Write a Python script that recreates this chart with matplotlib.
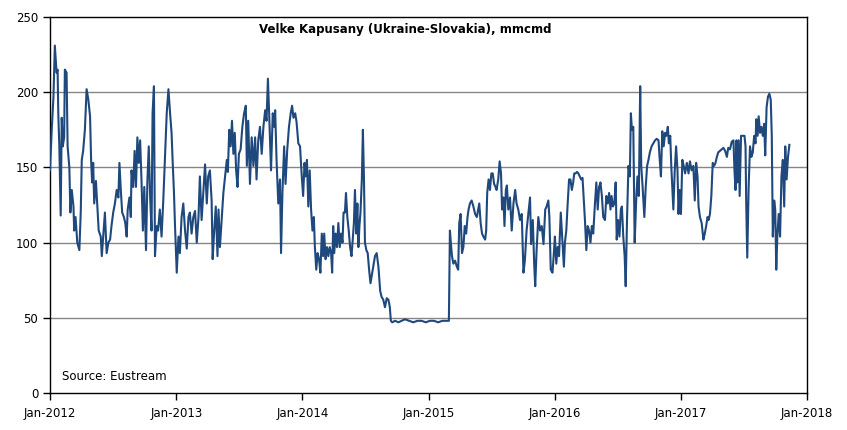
import matplotlib
matplotlib.use("Agg")
import matplotlib.pyplot as plt
import matplotlib.dates as mdates
import pandas as pd
import numpy as np

title = "Velke Kapusany (Ukraine-Slovakia), mmcmd"
source = "Source: Eustream"
start = "2012-01-01"
year_ticks = ["2012-01-01", "2013-01-01", "2014-01-01", "2015-01-01",
              "2016-01-01", "2017-01-01", "2018-01-01"]
y_ticks = [0, 50, 100, 150, 200, 250]

# day offsets from 2012-01-01 and flows (mmcmd)
days_p1 = [0,5,10,14,19,22,24,27,31,34,37,41,43,48,51,56,59,63,68,70,74,79,85,89,92,96,101,106,111,116,119,122,125,128,133,137,141,147,150,154,159,164,169,174,178,183,188,193,198,201,205,209,214,218,222,225,230,234,236,241,245,249,253,257,261,265,269,273,278,282,286,290,294,297,301,304,309,313,318,323,328,333,338,343]
vals_p1 = [148,175,197,231,213,215,186,164,118,183,164,170,215,213,164,150,120,135,124,108,117,100,95,120,155,161,175,202,195,184,155,140,153,126,141,124,108,104,91,104,120,93,100,102,111,120,126,135,130,153,135,120,117,113,104,122,130,117,148,137,161,137,170,153,168,141,108,137,95,141,164,130,108,186,204,91,111,108,122,104,128,157,186,202]

days_p2 = [348,352,355,359,362,367,372,376,381,386,391,396,401,405,410,415,420,425,430,434,439,444,449,454,458,463,468,471,475,480,485,488,492,497,502,507,512,515,519,523,527,531,535,539,543,547,552,557,562,567,570,574,579,584,589,594,598,603,608,613,618,623,627,631,635,640,645,649,652,656,661,666,669,673,678,682,687,692,697,701,705]
vals_p2 = [185,173,155,133,111,80,104,93,117,126,108,96,117,120,106,117,121,100,117,144,115,133,152,126,144,148,128,89,106,124,91,122,97,115,133,144,155,147,175,164,181,159,173,148,137,159,162,177,186,191,151,181,139,170,151,170,142,168,177,159,177,188,181,209,183,148,186,177,188,155,126,142,93,133,164,139,162,177,186,191,183]

days_p3 = [710,714,719,724,729,733,737,740,744,748,752,756,760,764,767,771,775,779,783,787,791,794,798,802,806,810,814,817,820,823,827,831,835,839,843,847,850,854,857,861,865,869,873,876,880,883,887,890,893,896,899,903,906,909,912,916,920,924,928,931,936,941,946,951,956,960,965,970,975,980,984,987,991,999,1009,1018,1028,1040,1052,1064,1076,1088,1100,1112,1124,1136,1148,1155]
vals_p3 = [186,180,166,164,144,131,153,144,155,124,148,122,108,117,97,82,93,89,80,106,91,106,89,97,91,97,93,80,111,93,106,97,113,97,106,100,120,120,133,117,108,97,91,100,113,135,106,126,97,111,120,142,175,144,100,95,93,82,73,77,84,91,93,84,68,64,62,57,63,62,57,48,47,48,47,48,49,48,47,48,48,47,48,48,47,48,48,48]

days_p4 = [1158,1161,1164,1168,1173,1178,1182,1185,1189,1193,1197,1201,1205,1209,1212,1216,1221,1226,1231,1236,1240,1243,1247,1251,1255,1260,1263,1266,1270,1274,1278,1282,1286,1290,1293,1298,1302,1306,1309,1313,1316,1320,1323,1327,1332,1337,1342,1347,1351,1356,1361,1366,1371,1375,1380,1385,1390,1393,1398,1402,1405,1409,1414,1419,1424,1429]
vals_p4 = [108,99,91,86,88,84,82,113,119,93,97,111,106,117,122,126,128,124,119,117,122,126,113,106,104,102,108,133,142,135,146,146,139,137,135,142,154,146,122,130,111,135,138,122,130,108,126,135,126,122,115,119,80,88,108,119,130,99,115,86,71,95,117,108,111,99]

days_p5 = [1434,1438,1443,1446,1450,1455,1459,1462,1466,1470,1474,1479,1484,1488,1491,1495,1499,1503,1507,1511,1515,1518,1522,1526,1530,1534,1538,1542,1545,1549,1553,1557,1561,1565,1569,1573,1578,1582,1586,1590,1594,1598,1602,1607,1611,1615,1619,1623,1626,1630,1634,1638,1641,1645,1649,1653,1656,1660,1664,1667,1671,1675,1679,1682,1685,1689,1693,1697,1701,1705,1709,1712,1716,1721,1725,1729,1733,1737,1742,1747,1752,1757,1762,1765,1769,1773,1777,1781,1785,1789,1792]
vals_p5 = [122,124,128,117,82,80,93,104,86,97,91,120,100,84,100,108,126,142,142,135,140,146,146,147,146,144,142,143,131,115,95,111,108,100,111,106,126,140,122,137,140,131,117,115,131,126,133,122,131,124,126,140,102,115,104,122,124,104,91,71,117,151,144,186,175,177,100,126,144,131,204,151,137,117,137,151,155,160,164,166,168,169,168,157,144,174,164,173,171,177,166]

days_p6 = [1796,1799,1802,1805,1809,1813,1817,1820,1823,1827,1831,1835,1839,1844,1849,1853,1858,1863,1867,1871,1875,1878,1882,1887,1892,1896,1900,1904,1907,1911,1915,1919,1923,1927,1931,1935,1940,1945,1950,1955,1960,1964,1969,1974,1979,1982,1985,1988,1990,1994,1997,2001,2006,2011,2014,2016,2019,2023,2027,2031,2035,2039,2043,2045,2049,2052,2056,2060,2064,2068,2071,2075,2079,2083,2087,2090,2093,2097,2100,2103,2106,2110,2114,2118,2122,2126,2129,2133,2137,2141]
vals_p6 = [171,151,137,122,148,164,148,119,135,119,155,151,146,153,146,154,148,151,128,153,144,124,117,113,102,106,111,117,115,119,131,153,151,153,157,160,161,162,163,161,157,163,162,167,168,148,135,168,140,168,131,171,171,171,164,126,90,137,164,157,160,171,166,182,171,184,173,177,171,179,158,190,197,199,195,171,104,128,122,82,104,119,104,144,155,124,164,142,157,165]

days = days_p1 + days_p2 + days_p3 + days_p4 + days_p5 + days_p6
vals = vals_p1 + vals_p2 + vals_p3 + vals_p4 + vals_p5 + vals_p6
dates = pd.Timestamp(start) + pd.to_timedelta(days, unit="D")

W, H = 847, 430
fig = plt.figure(figsize=(W / 100, H / 100), dpi=100)
ax = fig.add_axes([50 / W, 1 - 393 / H, (807 - 50) / W, (393 - 17) / H])

for y in y_ticks[1:-1]:
    ax.axhline(y, color="#868686", lw=1.0, zorder=1)

ax.plot(dates, vals, color="#1F497D", lw=1.5, zorder=3, solid_joinstyle="round")

ax.set_ylim(0, 250)
ax.set_xlim(pd.Timestamp(year_ticks[0]), pd.Timestamp(year_ticks[-1]))
ax.set_yticks(y_ticks)
ax.set_xticks([pd.Timestamp(t) for t in year_ticks])
ax.xaxis.set_major_formatter(mdates.DateFormatter("%b-%Y"))
for s in ax.spines.values():
    s.set_color("black")
    s.set_linewidth(1.0)
ax.tick_params(axis="both", direction="out", length=5, width=1, color="black",
               labelsize=8.5, labelcolor="black")
ax.tick_params(axis="x", pad=5)

fig.text(405 / W, 1 - 30 / H, title, ha="center", va="center",
         fontsize=8.5, fontweight="bold", family="DejaVu Sans")
ax.text(62 / W, 1 - 377 / H, source, transform=fig.transFigure,
        ha="left", va="center", fontsize=8.5)

fig.savefig("out.png", dpi=100)
